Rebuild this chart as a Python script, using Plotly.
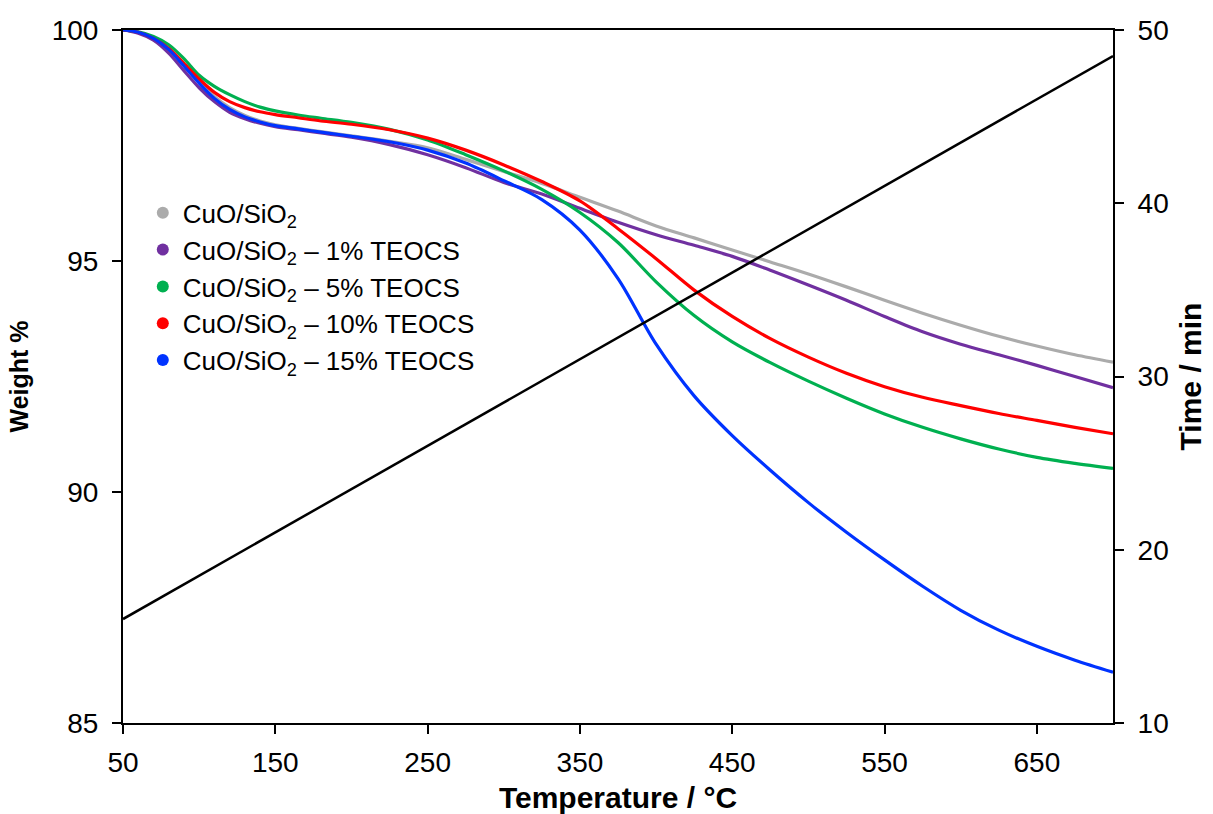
import plotly.graph_objects as go

temps = [50, 60, 70, 80, 90, 100, 110, 120, 130, 140, 150, 165, 180, 200, 225, 250, 275,
         300, 325, 350, 375, 400, 425, 450, 475, 500, 525, 550, 575, 600, 625, 650, 675, 700]

w_cuo = [100.0, 99.95, 99.83, 99.60, 99.25, 98.88, 98.56, 98.32, 98.15, 98.03, 97.95, 97.87, 97.80,
         97.71, 97.59, 97.45, 97.20, 96.94, 96.68, 96.38, 96.08, 95.76, 95.50, 95.24, 94.98, 94.72,
         94.44, 94.15, 93.87, 93.61, 93.37, 93.16, 92.97, 92.81]
w_1 = [100.0, 99.93, 99.78, 99.50, 99.12, 98.75, 98.45, 98.22, 98.08, 97.98, 97.91, 97.84, 97.77,
       97.68, 97.52, 97.30, 97.02, 96.70, 96.45, 96.14, 95.84, 95.57, 95.34, 95.10, 94.80, 94.48,
       94.15, 93.80, 93.47, 93.20, 92.97, 92.74, 92.50, 92.26]
w_5 = [100.0, 99.96, 99.86, 99.68, 99.38, 99.02, 98.78, 98.60, 98.45, 98.33, 98.25, 98.16, 98.09,
       98.00, 97.85, 97.62, 97.30, 96.95, 96.55, 96.05, 95.40, 94.55, 93.82, 93.25, 92.80, 92.40,
       92.03, 91.69, 91.40, 91.15, 90.93, 90.75, 90.62, 90.51]
w_10 = [100.0, 99.95, 99.82, 99.60, 99.28, 98.94, 98.65, 98.45, 98.32, 98.23, 98.17, 98.10, 98.03,
        97.96, 97.84, 97.66, 97.40, 97.08, 96.72, 96.30, 95.70, 95.05, 94.37, 93.80, 93.32, 92.92,
        92.57, 92.28, 92.05, 91.87, 91.70, 91.55, 91.40, 91.26]
w_15 = [100.0, 99.95, 99.82, 99.58, 99.22, 98.85, 98.52, 98.28, 98.12, 98.01, 97.93, 97.86, 97.79,
        97.70, 97.58, 97.40, 97.12, 96.74, 96.33, 95.67, 94.62, 93.20, 92.08, 91.22, 90.47, 89.77,
        89.13, 88.53, 87.96, 87.44, 87.01, 86.66, 86.36, 86.10]

time_temps = [50, 700]
time_min = [16.0, 48.5]

names = ["CuO/SiO<sub>2</sub>",
         "CuO/SiO<sub>2</sub> – 1% TEOCS",
         "CuO/SiO<sub>2</sub> – 5% TEOCS",
         "CuO/SiO<sub>2</sub> – 10% TEOCS",
         "CuO/SiO<sub>2</sub> – 15% TEOCS"]
colors = ["#ABABAB", "#7030A0", "#00B050", "#FF0000", "#0033FF"]
series = [w_cuo, w_1, w_5, w_10, w_15]

FONT = "Liberation Sans, Arial, sans-serif"

fig = go.Figure()
for name, col, ys in zip(names, colors, series):
    fig.add_trace(go.Scatter(x=temps, y=ys, mode="lines",
                             line=dict(color=col, width=3.2, shape="spline", smoothing=0.9),
                             showlegend=False, hoverinfo="skip"))
fig.add_trace(go.Scatter(x=time_temps, y=time_min, mode="lines", line=dict(color="black", width=2.5),
                         yaxis="y2", showlegend=False))
for name, col in zip(names, colors):
    fig.add_trace(go.Scatter(x=[None], y=[None], mode="markers", name=name,
                             marker=dict(color=col, size=12, symbol="circle")))

fig.update_layout(
    width=1213, height=814,
    margin=dict(l=123, r=100, t=30, b=91),
    paper_bgcolor="white", plot_bgcolor="white",
    font=dict(family=FONT, size=28, color="black"),
    showlegend=True,
    legend=dict(x=0.02, y=0.77, xanchor="left", yanchor="top", bgcolor="rgba(0,0,0,0)",
                font=dict(family=FONT, size=26), itemsizing="trace", tracegroupgap=0),
    xaxis=dict(range=[50, 700], tickvals=[50, 150, 250, 350, 450, 550, 650], automargin=False,
               showgrid=False, zeroline=False, showline=True, linecolor="black", linewidth=2,
               mirror=True, ticks="outside", ticklen=9, tickwidth=1.5, tickcolor="black",
               tickfont=dict(size=28), ticklabelstandoff=4,
               title=dict(text="<b>Temperature / °C</b>", font=dict(size=30), standoff=10)),
    yaxis=dict(range=[85, 100], tickvals=[85, 90, 95, 100], automargin=False,
               showgrid=False, zeroline=False, showline=True, linecolor="black", linewidth=2,
               ticks="outside", ticklen=9, tickwidth=1.5, tickcolor="black",
               tickfont=dict(size=28), ticklabelstandoff=8,
               title=dict(text="<b>Weight %</b>", font=dict(size=25), standoff=16)),
    yaxis2=dict(range=[10, 50], tickvals=[10, 20, 30, 40, 50], overlaying="y", side="right",
                automargin=False,
                showgrid=False, zeroline=False, showline=True, linecolor="black", linewidth=2,
                ticks="outside", ticklen=9, tickwidth=1.5, tickcolor="black",
                tickfont=dict(size=28), ticklabelstandoff=8,
                title=dict(text="<b>Time / min</b>", font=dict(size=30), standoff=12)),
)

fig.write_html("out.html")
